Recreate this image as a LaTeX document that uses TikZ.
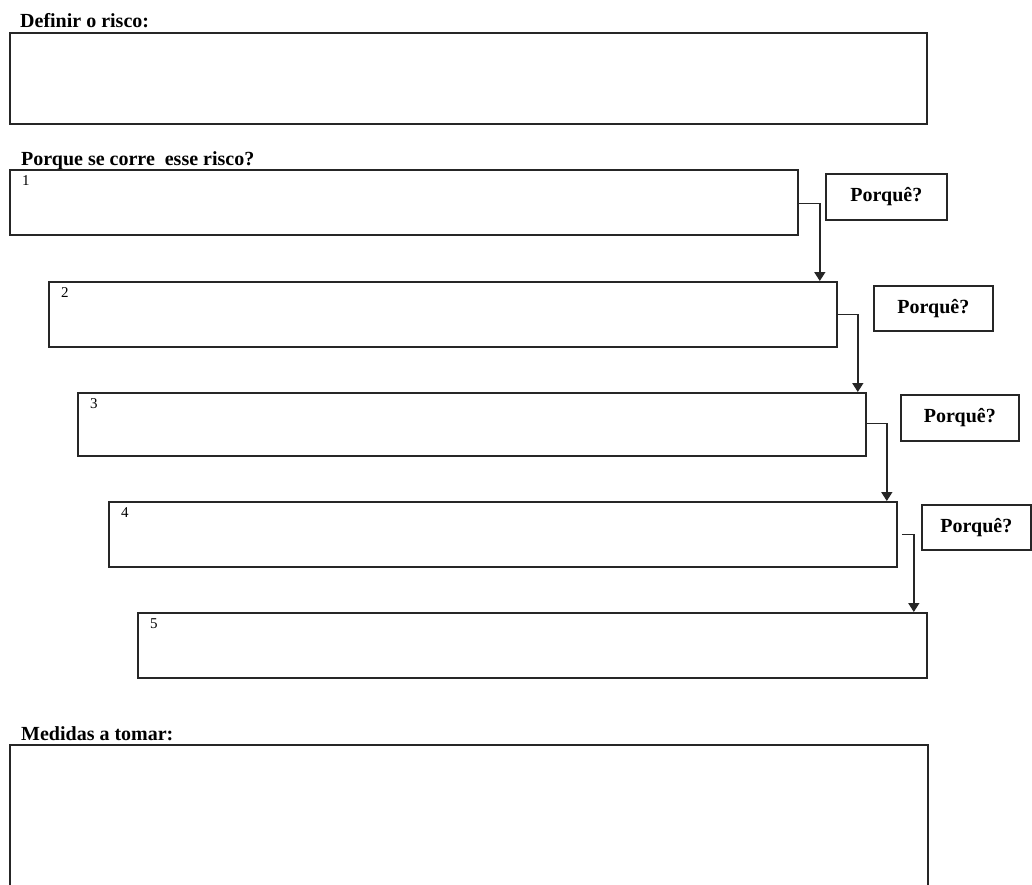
\documentclass[tikz,border=0pt]{standalone}
\usepackage{fontspec}
\setmainfont{Liberation Serif}
\usetikzlibrary{arrows.meta,calc}
\begin{document}
\begin{tikzpicture}[x=1pt,y=-1pt,
  box/.style={draw=black!85,line width=1.8pt,rectangle,inner sep=0pt,anchor=north west},
  whybox/.style={box,font=\fontsize{20}{22}\selectfont\bfseries},
  title/.style={anchor=base west,inner sep=0pt,font=\fontsize{20}{22}\selectfont\bfseries},
  num/.style={anchor=base west,inner sep=0pt,font=\fontsize{15}{16}\selectfont},
  link/.style={draw=black!85,line width=1.6pt,-{Triangle[width=11pt,length=9pt]}}]
\useasboundingbox (0,0) rectangle (1032,884);
\clip (0,0) rectangle (1032,884);
\node[title] (t1) at (20,27) {Definir o risco:};
\node[box,minimum width=917pt,minimum height=91pt] (boxA) at (9,32) {};
\node[title] (t2) at (21,165) {Porque se corre\ \ esse risco?};
\node[box,minimum width=788pt,minimum height=65pt] (b1) at (9,169) {};
\node[box,minimum width=788pt,minimum height=65pt] (b2) at (48,281) {};
\node[box,minimum width=788pt,minimum height=63pt] (b3) at (77,392) {};
\node[box,minimum width=788pt,minimum height=65pt] (b4) at (108,501) {};
\node[box,minimum width=789pt,minimum height=65pt] (b5) at (137,612) {};
\node[num] (n1) at ($(b1.north west)+(13,16)$) {1};
\node[num] (n2) at ($(b2.north west)+(13,16)$) {2};
\node[num] (n3) at ($(b3.north west)+(13,16)$) {3};
\node[num] (n4) at ($(b4.north west)+(13,16)$) {4};
\node[num] (n5) at ($(b5.north west)+(13,16)$) {5};
\node[whybox,minimum width=121pt,minimum height=46pt] (p1) at (825,173) {Porquê?};
\node[whybox,minimum width=119pt,minimum height=45pt] (p2) at (873,285) {Porquê?};
\node[whybox,minimum width=118pt,minimum height=46pt] (p3) at (900,394) {Porquê?};
\node[whybox,minimum width=109pt,minimum height=45pt] (p4) at (921,504) {Porquê?};
\coordinate (a1) at ($(b2.north east)+(-18,0)$);
\coordinate (a2) at ($(b3.north east)+(-9,0)$);
\coordinate (a3) at ($(b4.north east)+(-11,0)$);
\coordinate (a4) at ($(b5.north east)+(-14,0)$);
\draw[link] ($(b1.east)+(0,1)$) -| (a1);
\draw[link] ($(b2.east)+(0,0)$) -| (a2);
\draw[link] ($(b3.east)+(0,-1)$) -| (a3);
\draw[link] ($(b4.east)+(4,0)$) -| (a4);
\node[title] (t3) at (21,740) {Medidas a tomar:};
\node[box,minimum width=918pt,minimum height=160pt] (boxB) at (9,744) {};
\end{tikzpicture}
\end{document}
